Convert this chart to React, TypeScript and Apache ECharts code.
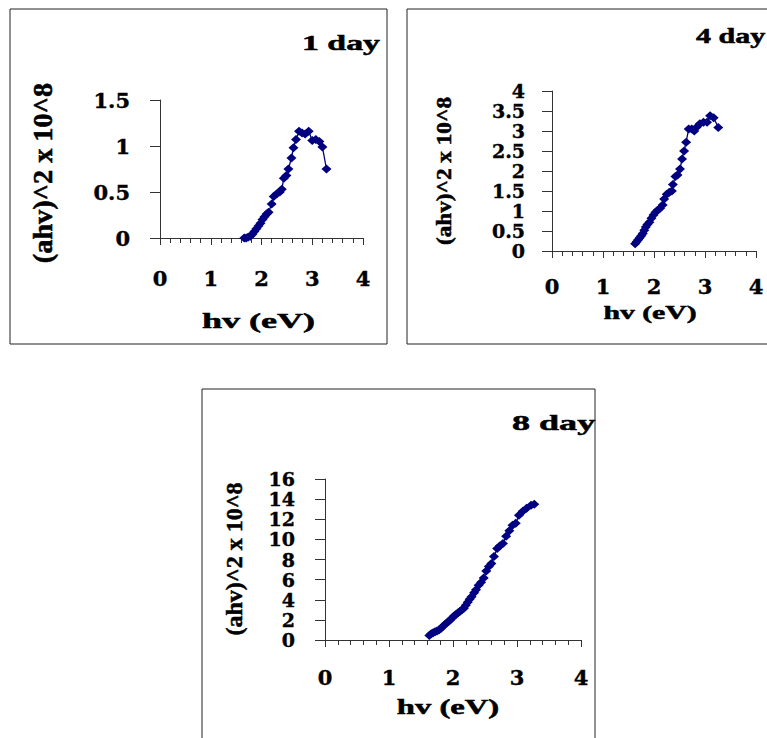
import React, { useEffect, useRef } from "react";
import * as echarts from "echarts";

// ---- Data: 1 day ----
const hv1 = [1.66, 1.70, 1.74, 1.78, 1.82, 1.86, 1.90, 1.94, 1.98, 2.02, 2.06, 2.10, 2.14, 2.20, 2.24, 2.30, 2.36, 2.40, 2.44, 2.49, 2.53, 2.59, 2.63, 2.68, 2.74, 2.80, 2.86, 2.93, 3.00, 3.07, 3.14, 3.20, 3.28];
const val1 = [0.0, 0.0, 0.01, 0.02, 0.04, 0.07, 0.10, 0.13, 0.16, 0.20, 0.23, 0.26, 0.28, 0.37, 0.45, 0.48, 0.50, 0.53, 0.65, 0.68, 0.75, 0.87, 0.98, 1.07, 1.16, 1.14, 1.13, 1.16, 1.06, 1.07, 1.05, 0.99, 0.75];

// ---- Data: 4 day ----
const hv4 = [1.63, 1.66, 1.69, 1.72, 1.75, 1.78, 1.81, 1.84, 1.87, 1.91, 1.95, 1.99, 2.03, 2.07, 2.12, 2.17, 2.20, 2.25, 2.30, 2.35, 2.37, 2.42, 2.46, 2.51, 2.55, 2.59, 2.63, 2.68, 2.74, 2.79, 2.84, 2.90, 2.97, 3.04, 3.10, 3.17, 3.26];
const val4 = [0.18, 0.23, 0.28, 0.33, 0.38, 0.44, 0.52, 0.60, 0.66, 0.72, 0.82, 0.90, 0.97, 1.02, 1.07, 1.15, 1.30, 1.42, 1.47, 1.50, 1.66, 1.86, 1.90, 2.05, 2.30, 2.50, 2.72, 3.05, 3.05, 3.00, 3.10, 3.18, 3.22, 3.22, 3.38, 3.33, 3.09];

// ---- Data: 8 day ----
const hv8 = [1.63, 1.66, 1.69, 1.72, 1.75, 1.78, 1.81, 1.84, 1.87, 1.90, 1.93, 1.96, 1.99, 2.02, 2.05, 2.08, 2.11, 2.14, 2.17, 2.20, 2.23, 2.26, 2.29, 2.33, 2.36, 2.40, 2.44, 2.48, 2.52, 2.56, 2.60, 2.64, 2.69, 2.73, 2.78, 2.83, 2.88, 2.93, 2.98, 3.03, 3.09, 3.15, 3.22, 3.27];
const val8 = [0.45, 0.62, 0.72, 0.82, 0.90, 1.00, 1.15, 1.35, 1.52, 1.68, 1.85, 2.02, 2.20, 2.40, 2.55, 2.72, 2.85, 3.00, 3.15, 3.45, 3.75, 4.05, 4.30, 4.70, 5.00, 5.45, 5.75, 6.15, 6.85, 7.30, 7.60, 8.30, 9.10, 9.35, 9.60, 10.30, 10.85, 11.40, 11.60, 12.40, 12.80, 13.10, 13.40, 13.50];

// ---- Axis ticks ----
const xTicks = [0, 1, 2, 3, 4];
const yTicks1 = [0, 0.5, 1, 1.5];
const yTicks4 = [0, 0.5, 1, 1.5, 2, 2.5, 3, 3.5, 4];
const yTicks8 = [0, 2, 4, 6, 8, 10, 12, 14, 16];

const titles = ["1 day", "4 day", "8 day"];
const xName = "hv (eV)";
const yName = "(ahv)^2 x 10^8";

const NAVY = "#000080";
const AXIS = "#333333";
const LABEL_FONT = "DejaVu Serif";
const TEXT_FONT = '"Liberation Serif", "Times New Roman", serif';

function xAxisCfg(gridIndex: number, fontSize: number, margin: number) {
  return {
    type: "value",
    gridIndex,
    min: xTicks[0],
    max: xTicks[xTicks.length - 1],
    interval: 1,
    axisLine: { show: true, onZero: false, lineStyle: { color: AXIS, width: 1 } },
    axisTick: { show: true, inside: false, length: 7, lineStyle: { color: AXIS } },
    minorTick: { show: true, splitNumber: 5, length: 5, lineStyle: { color: AXIS } },
    splitLine: { show: false },
    axisLabel: {
      show: true,
      showMinLabel: true,
      showMaxLabel: true,
      margin,
      color: "#000",
      fontFamily: LABEL_FONT,
      fontWeight: "bold",
      fontSize,
      textBorderColor: "#000",
      textBorderWidth: 0.4,
    },
  };
}

function yAxisCfg(gridIndex: number, ticks: number[], fontSize: number, margin: number) {
  return {
    type: "value",
    gridIndex,
    min: ticks[0],
    max: ticks[ticks.length - 1],
    interval: ticks[1] - ticks[0],
    axisLine: { show: true, onZero: false, lineStyle: { color: AXIS, width: 1 } },
    axisTick: { show: true, inside: false, length: 10, lineStyle: { color: AXIS } },
    splitLine: { show: false },
    axisLabel: {
      show: true,
      showMinLabel: true,
      showMaxLabel: true,
      hideOverlap: false,
      margin,
      color: "#000",
      fontFamily: LABEL_FONT,
      fontWeight: "bold",
      fontSize,
      lineHeight: fontSize,
      textBorderColor: "#000",
      textBorderWidth: 0.4,
    },
  };
}

function seriesCfg(idx: number, xs: number[], ys: number[]) {
  return {
    type: "line",
    xAxisIndex: idx,
    yAxisIndex: idx,
    data: xs.map((x, i) => [x, ys[i]]),
    symbol: "diamond",
    symbolSize: [10, 9],
    showSymbol: true,
    lineStyle: { color: NAVY, width: 1.3 },
    itemStyle: { color: NAVY },
    z: 3,
  };
}

function label(text: string, x: number, y: number, fontSize: number, scaleX: number, opts: any = {}) {
  return {
    type: "text",
    x,
    y,
    scaleX,
    scaleY: opts.scaleY || 1,
    rotation: opts.rotation || 0,
    silent: true,
    style: {
      text,
      fill: "#000",
      stroke: "#000",
      lineWidth: 0.5,
      font: `bold ${fontSize}px ${TEXT_FONT}`,
      align: opts.align || "center",
      verticalAlign: "middle",
    },
  };
}

function frame(x: number, y: number, w: number, h: number) {
  return {
    type: "rect",
    silent: true,
    shape: { x, y, width: w, height: h },
    style: { fill: "none", stroke: "#222", lineWidth: 1 },
    z: -1,
  };
}

export default function App() {
  const ref = useRef<HTMLDivElement>(null);
  useEffect(() => {
    if (!ref.current) return;
    const chart = echarts.init(ref.current, null, { renderer: "svg" });
    chart.setOption({
      animation: false,
      backgroundColor: "#fff",
      grid: [
        { left: 160, top: 100, width: 203, height: 138 },
        { left: 552, top: 91, width: 204, height: 160 },
        { left: 325, top: 479, width: 256, height: 161 },
      ],
      xAxis: [xAxisCfg(0, 21, 30), xAxisCfg(1, 21, 25), xAxisCfg(2, 21, 27)],
      yAxis: [
        yAxisCfg(0, yTicks1, 21, 30),
        yAxisCfg(1, yTicks4, 19, 27),
        yAxisCfg(2, yTicks8, 19, 30),
      ],
      series: [seriesCfg(0, hv1, val1), seriesCfg(1, hv4, val4), seriesCfg(2, hv8, val8)],
      graphic: [
        frame(10, 9, 377, 335),
        frame(407, 9, 400, 335),
        frame(202, 389, 393, 400),
        label(titles[0], 302, 43, 21, 1.61, { align: "left" }),
        label(titles[1], 696, 36, 20, 1.5, { align: "left" }),
        label(titles[2], 512, 422, 22, 1.64, { align: "left" }),
        label(xName, 258.5, 320, 22, 1.64),
        label(xName, 650, 313, 18, 1.65),
        label(xName, 448, 707, 20, 1.63),
        label(yName, 43, 173, 25, 1.13, { rotation: Math.PI / 2, scaleY: 1.1 }),
        label(yName, 445, 171, 20, 1.16, { rotation: Math.PI / 2 }),
        label(yName, 234, 559, 24, 1.0, { rotation: Math.PI / 2 }),
      ],
    });
    return () => chart.dispose();
  }, []);
  return (
    <div
      ref={ref}
      style={{ position: "fixed", left: 0, top: 0, width: 767, height: 738, background: "#fff" }}
    />
  );
}
